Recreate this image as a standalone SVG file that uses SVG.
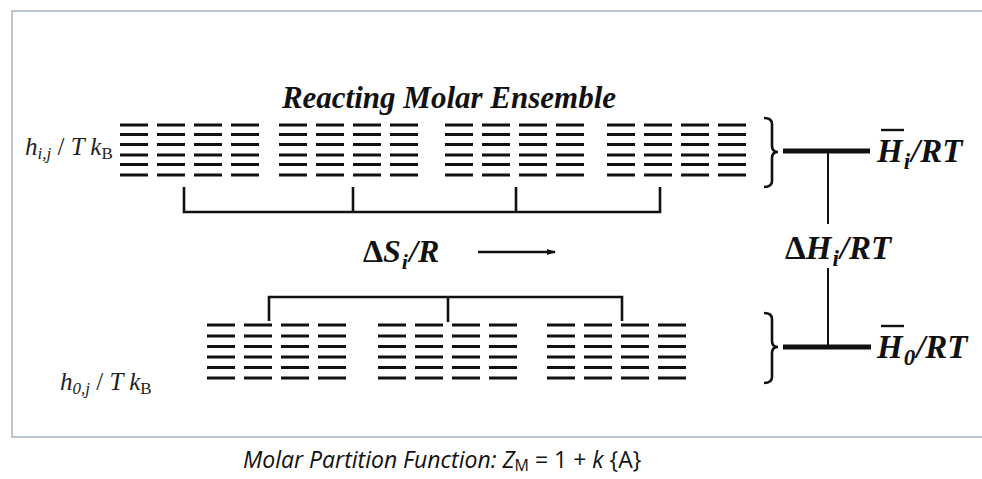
<svg xmlns="http://www.w3.org/2000/svg" width="982" height="479" viewBox="0 0 982 479">
<defs>
<style>
.lv{stroke:#111;stroke-width:3;fill:none}
.br{stroke:#111;stroke-width:2.6;fill:none}
.th{stroke:#111;stroke-width:5}
.tn{stroke:#111;stroke-width:2}
.t{font-family:"Liberation Serif","Times New Roman",serif;font-weight:bold;font-style:italic;fill:#111}
.m{font-family:"Liberation Serif","DejaVu Serif",serif;font-style:italic;fill:#222}
.cap{font-family:"Open Sans","Liberation Sans",sans-serif;font-style:italic;fill:#111}
</style>
<marker id="ah" markerWidth="9" markerHeight="8" refX="8" refY="4" orient="auto" markerUnits="userSpaceOnUse">
<path d="M0,1 L9,4 L0,7 Z" fill="#111"/>
</marker>
<g id="col6t">
<path class="lv" d="M0,125h28M0,134.5h28M0,144.5h28M0,155h28M0,164.5h28M0,175h28"/>
</g>
<g id="grpT">
<use href="#col6t" x="0"/><use href="#col6t" x="37"/><use href="#col6t" x="74"/><use href="#col6t" x="111"/>
</g>
<g id="col6b">
<path class="lv" d="M0,325h28M0,336h28M0,346.5h28M0,357h28M0,367.5h28M0,378h28"/>
</g>
<g id="grpB">
<use href="#col6b" x="0"/><use href="#col6b" x="37"/><use href="#col6b" x="74"/><use href="#col6b" x="111"/>
</g>
</defs>
<rect x="0" y="0" width="982" height="479" fill="#fff"/>
<path d="M990,11 H12 V437 H990" fill="none" stroke="#a7b7c2" stroke-width="1.5"/>

<g id="title"><text class="t" x="449" y="108" font-size="31" text-anchor="middle">Reacting Molar Ensemble</text></g>

<g id="label-hij"><text class="m" x="25" y="155" font-size="25">h<tspan font-size="17" dy="4">i,j</tspan><tspan dy="-4" font-style="normal"> / </tspan>T k<tspan font-size="17" dy="4" font-style="normal">B</tspan></text></g>
<g id="label-h0j"><text class="m" x="60" y="390" font-size="25">h<tspan font-size="17" dy="4">0,j</tspan><tspan dy="-4" font-style="normal"> / </tspan>T k<tspan font-size="17" dy="4" font-style="normal">B</tspan></text></g>

<g id="top-levels">
<use href="#grpT" x="120"/><use href="#grpT" x="279"/><use href="#grpT" x="445"/><use href="#grpT" x="607"/>
</g>
<g id="bottom-levels">
<use href="#grpB" x="207"/><use href="#grpB" x="378"/><use href="#grpB" x="547"/>
</g>

<g id="connectors">
<path class="br" d="M184,187V212H660V187M353,187V212M516,187V212"/>
<path class="br" d="M269,321V297H622V321M448,297V322"/>
<line x1="478" y1="252" x2="555" y2="252" stroke="#111" stroke-width="2.5" marker-end="url(#ah)"/>
<path class="br" d="M764,118 Q772,118 772,124 V146 Q772,152 778,152 Q772,152 772,158 V181 Q772,187 764,187" stroke-width="2"/>
<path class="br" d="M764,313 Q772,313 772,319 V341 Q772,347 778,347 Q772,347 772,353 V377 Q772,383 764,383" stroke-width="2"/>
<line class="th" x1="783" y1="151" x2="870" y2="151"/>
<line class="th" x1="783" y1="347" x2="871" y2="347"/>
<line class="tn" x1="828" y1="151" x2="828" y2="224"/>
<line class="tn" x1="828" y1="268" x2="828" y2="347"/>
</g>

<g id="dS"><text class="t" x="363" y="262" font-size="32"><tspan font-style="normal">Δ</tspan>S<tspan font-size="22" dy="7" dx="1">i</tspan><tspan dy="-7" dx="1">/R</tspan></text></g>

<g id="Hi"><text class="t" x="877" y="162" font-size="33">H<tspan font-size="23" dy="7" dx="1">i</tspan><tspan dy="-7" dx="1">/RT</tspan></text><line x1="881" y1="130" x2="904" y2="130" stroke="#111" stroke-width="2.4"/></g>
<g id="dH"><text class="t" x="785" y="259" font-size="33"><tspan font-style="normal">Δ</tspan>H<tspan font-size="23" dy="7" dx="1">i</tspan><tspan dy="-7" dx="1">/RT</tspan></text></g>
<g id="H0"><text class="t" x="877" y="358" font-size="33">H<tspan font-size="23" dy="7" dx="1">0</tspan><tspan dy="-7" dx="1">/RT</tspan></text><line x1="881" y1="326" x2="904" y2="326" stroke="#111" stroke-width="2.4"/></g>

<g id="caption"><text class="cap" x="243" y="468" font-size="23">Molar Partition Function: Z<tspan font-size="16" dy="3" font-style="normal">M</tspan><tspan dy="-3" font-style="normal"> = 1 + </tspan>k<tspan font-style="normal"> {A}</tspan></text></g>
</svg>
